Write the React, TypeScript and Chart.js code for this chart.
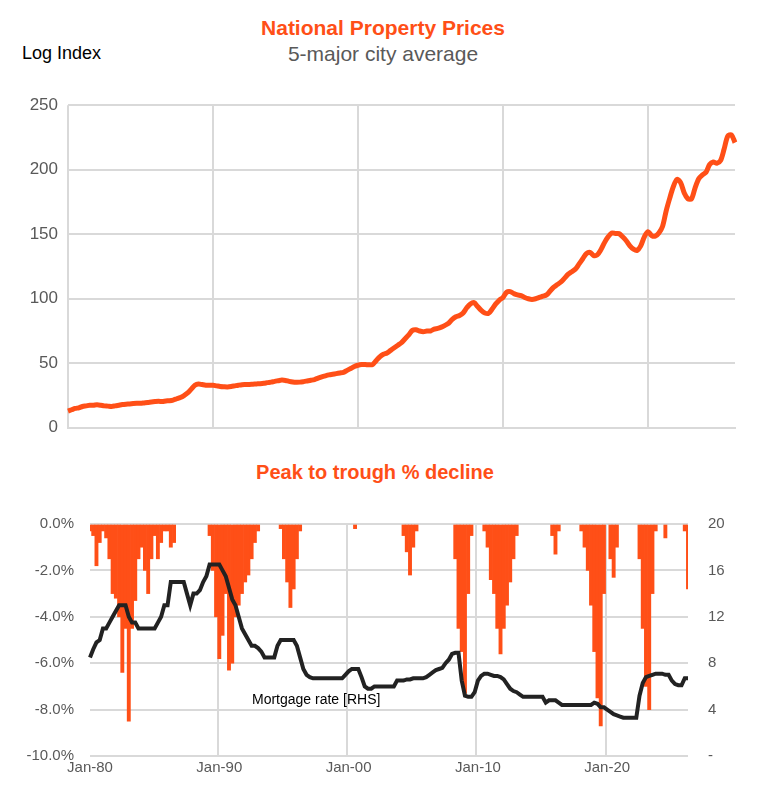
import React, { useEffect, useRef } from "react";
import { Chart, registerables } from "chart.js";
Chart.register(...registerables);

const ORANGE = "#FF4F17";
const GRID = "#d9d9d9";
const TICK = "#595959";
const FONT = "'Liberation Sans', Arial, sans-serif";

// Quarterly, 1980Q1 .. 2026Q1
const priceIndex: number[] = [
  13, 14, 15, 15.5, 16.5, 17, 17.5, 17.5, 17.8, 17.5, 17, 16.8, 16.6, 17, 17.5, 18,
  18.3, 18.5, 18.8, 19, 19, 19.3, 19.6, 20, 20.3, 20.5, 20.4, 20.8, 21, 21.5, 22.5, 23.5,
  25, 27, 30, 33, 34, 33.5, 33, 33, 33, 32.5, 32, 31.8, 31.7, 32, 32.5, 33,
  33.4, 33.5, 33.6, 33.8, 34, 34.2, 34.5, 35, 35.4, 36, 36.5, 37, 36.7, 36, 35.5, 35.3,
  35.4, 35.8, 36.3, 36.8, 37.4, 38.5, 39.5, 40.3, 41, 41.5, 42, 42.5, 43, 44.5, 46, 47.5,
  48.5, 49, 49, 48.8, 49, 52, 55, 57, 58, 60, 62, 64, 66, 69, 72, 75.5,
  76, 75, 74.5, 75, 75, 76.5, 77, 78, 79.4, 81, 84, 86, 87, 89, 93, 96,
  97, 94, 91, 89, 88.7, 92, 96, 99, 101, 105, 105.5, 104, 103, 102.5, 101, 100,
  99.5, 100, 101, 102, 103, 106, 109, 111, 113, 116, 119, 121, 123, 127, 131, 135,
  136, 133.5, 134, 138, 143.5, 148, 151, 150.5, 150.5, 148, 145, 141, 138.4, 137.5, 141, 148,
  152, 149, 148.5, 151, 156, 168, 178, 187, 192.5, 190, 182, 177.5, 177.4, 186, 193, 196,
  198, 204, 206, 205, 207, 216, 226, 227, 221,
];

// Quarterly, 1980Q1 .. 2026Q2
const declinePct: number[] = [
  -0.3, -0.5, -1.8, -0.8, -0.3, -0.6, -1.5, -3.0, -3.2, -4.0, -6.4, -4.5, -8.5, -4.5, -3.3, -1.5,
  -1.0, -2.0, -3.0, -1.5, -0.5, -1.5, -0.8, -0.3, -0.3, -1.0, -0.8, 0, 0, 0, 0, 0,
  0, 0, 0, 0, 0, -0.5, -2.0, -4.0, -5.8, -4.8, -3.0, -6.3, -6.0, -4.0, -3.5, -3.0,
  -2.5, -2.2, -1.5, -0.8, -0.3, 0, 0, 0, 0, 0, 0, -0.2, -1.5, -2.5, -3.6, -2.8,
  -1.5, -0.3, 0, 0, 0, 0, 0, 0, 0, 0, 0, 0, 0, 0, 0, 0,
  0, 0, -0.2, 0, 0, 0, 0, 0, 0, 0, 0, 0, 0, 0, 0, 0,
  0, -0.5, -1.2, -2.2, -1.0, -0.3, 0, 0, 0, 0, 0, 0, 0, 0, 0, 0,
  0, -1.5, -4.5, -5.5, -7.3, -3.0, -0.5, 0, 0, 0, -0.3, -1.0, -2.4, -3.0, -4.5, -5.6,
  -4.5, -3.5, -2.5, -1.5, -0.5, 0, 0, 0, 0, 0, 0, 0, 0, 0, 0, -0.5,
  -1.3, -0.3, 0, 0, 0, 0, 0, 0, -0.3, -1.0, -2.0, -3.5, -5.5, -7.5, -8.7, -3.0,
  0, -1.5, -2.3, -1.0, 0, 0, 0, 0, 0, 0, -1.5, -4.5, -7.0, -8.0, -3.0, -0.3,
  0, 0, -0.6, 0, 0, 0, 0, 0, -0.3, -2.8,
];

const mortgageRate: number[] = [
  8.5, 9.2, 9.8, 10, 11, 11, 11.5, 12, 12.5, 13, 13, 13, 12, 11.5, 11.5, 11,
  11, 11, 11, 11, 11, 11.5, 12, 13, 13, 15, 15, 15, 15, 15, 14, 13,
  14, 14, 14.3, 15, 15.5, 16.5, 16.5, 16.5, 16.5, 16, 15.5, 14.5, 13.5, 13, 12, 11,
  10.5, 10, 9.5, 9.5, 9.3, 9, 8.5, 8.5, 8.5, 8.5, 9.5, 10, 10, 10, 10, 10,
  9.5, 8.5, 7.5, 7, 6.8, 6.7, 6.7, 6.7, 6.7, 6.7, 6.7, 6.7, 6.7, 6.7, 6.7, 7.0,
  7.3, 7.5, 7.5, 7.5, 6.8, 6.0, 5.8, 5.8, 6.0, 6.0, 6.0, 6.0, 6.0, 6.0, 6.0, 6.5,
  6.5, 6.5, 6.6, 6.6, 6.7, 6.7, 6.7, 6.7, 6.8, 7.0, 7.2, 7.4, 7.5, 7.6, 8.0, 8.3,
  8.8, 8.9, 8.9, 6.5, 5.2, 5.1, 5.1, 5.5, 6.5, 6.9, 7.1, 7.1, 7.0, 6.9, 6.9, 6.8,
  6.6, 6.2, 5.8, 5.6, 5.5, 5.3, 5.1, 5.1, 5.1, 5.1, 5.1, 5.1, 5.1, 4.6, 4.8, 4.8,
  4.8, 4.6, 4.4, 4.4, 4.4, 4.4, 4.4, 4.4, 4.4, 4.4, 4.4, 4.4, 4.6, 4.5, 4.2, 4.2,
  4.0, 3.8, 3.6, 3.5, 3.4, 3.3, 3.3, 3.3, 3.3, 3.3, 5.2, 6.3, 6.8, 6.9, 7.0, 7.1,
  7.1, 7.1, 7.0, 7.0, 6.5, 6.2, 6.1, 6.1, 6.7, 6.7,
];

const quarterLabels = (n: number) =>
  Array.from({ length: n }, (_, i) => `Q${(i % 4) + 1}-${1980 + Math.floor(i / 4)}`);

const decadeTick = (i: number) =>
  i % 40 === 0 ? "Jan-" + String(1980 + i / 4).slice(2) : "";

export default function App() {
  const topRef = useRef<HTMLCanvasElement>(null);
  const botRef = useRef<HTMLCanvasElement>(null);

  useEffect(() => {
    const top = new Chart(topRef.current!, {
      type: "line",
      data: {
        labels: quarterLabels(priceIndex.length),
        datasets: [
          {
            data: priceIndex,
            borderColor: ORANGE,
            borderWidth: 5,
            pointRadius: 0,
            tension: 0.3,
          },
        ],
      },
      options: {
        animation: false,
        responsive: false,
        plugins: { legend: { display: false }, tooltip: { enabled: false } },
        layout: { padding: { top: 0, right: 23, left: 0, bottom: 0 } },
        scales: {
          x: {
            ticks: { display: false, autoSkip: false },
            grid: {
              color: (c: any) => (c.index % 40 === 0 ? GRID : "transparent"),
              lineWidth: 2,
              drawTicks: false,
            },
            border: { color: GRID, width: 2 },
            afterFit: (s: any) => {
              s.height = 3;
            },
          },
          y: {
            min: 0,
            max: 250,
            ticks: { stepSize: 50, color: TICK, font: { family: FONT, size: 17 }, padding: 10 },
            grid: { color: GRID, lineWidth: 2, drawTicks: false },
            border: { display: false },
            afterFit: (s: any) => {
              s.width = 68;
            },
          },
        },
      },
    });

    const bot = new Chart(botRef.current!, {
      data: {
        labels: quarterLabels(declinePct.length),
        datasets: [
          {
            type: "line",
            data: mortgageRate,
            yAxisID: "y1",
            borderColor: "#222222",
            borderWidth: 4,
            pointRadius: 0,
            tension: 0,
            order: 0,
          },
          {
            type: "bar",
            data: declinePct.map((v) => (v === 0 ? null : v)),
            yAxisID: "y",
            backgroundColor: ORANGE,
            barPercentage: 1,
            categoryPercentage: 1,
            order: 1,
          },
        ],
      } as any,
      options: {
        animation: false,
        responsive: false,
        plugins: { legend: { display: false }, tooltip: { enabled: false } },
        layout: { padding: { top: 4, right: 0, left: 0, bottom: 0 } },
        scales: {
          x: {
            offset: false,
            ticks: {
              autoSkip: false,
              maxRotation: 0,
              color: TICK,
              font: { family: FONT, size: 15 },
              callback: (_v: any, i: number) => decadeTick(i),
            },
            grid: {
              color: (c: any) => (c.index % 40 === 0 ? GRID : "transparent"),
              lineWidth: 2,
              drawTicks: false,
            },
            border: { display: false },
            afterFit: (s: any) => {
              s.height = 39;
            },
          },
          y: {
            position: "left",
            min: -10,
            max: 0,
            ticks: {
              stepSize: 2,
              color: TICK,
              font: { family: FONT, size: 15 },
              padding: 16,
              callback: (v: any) => Number(v).toFixed(1) + "%",
            },
            grid: { color: GRID, lineWidth: 2, drawTicks: false },
            border: { display: false },
            afterFit: (s: any) => {
              s.width = 90;
            },
          },
          y1: {
            position: "right",
            min: 0,
            max: 20,
            ticks: {
              stepSize: 4,
              color: TICK,
              font: { family: FONT, size: 15 },
              padding: 20,
              callback: (v: any) => (v === 0 ? "-" : String(v)),
            },
            grid: { display: false, drawTicks: false },
            border: { display: false },
            afterFit: (s: any) => {
              s.width = 70;
            },
          },
        },
      },
    });

    return () => {
      top.destroy();
      bot.destroy();
    };
  }, []);

  const abs = (l: number, t: number): React.CSSProperties => ({
    position: "absolute",
    left: l,
    top: t,
    fontFamily: FONT,
    whiteSpace: "nowrap",
  });

  return (
    <div style={{ position: "absolute", left: 0, top: 0, width: 758, height: 803, background: "#fff" }}>
      <div style={{ ...abs(0, 16), width: 766, textAlign: "center", color: ORANGE, fontWeight: "bold", fontSize: 21 }}>
        National Property Prices
      </div>
      <div style={{ ...abs(0, 42), width: 766, textAlign: "center", color: "#595959", fontSize: 21 }}>
        5-major city average
      </div>
      <div style={{ ...abs(22, 43), color: "#000", fontSize: 18 }}>Log Index</div>
      <canvas ref={topRef} width={758} height={363} style={{ position: "absolute", left: 0, top: 85 }} />
      <div style={{ ...abs(0, 461), width: 750, textAlign: "center", color: ORANGE, fontWeight: "bold", fontSize: 20 }}>
        Peak to trough % decline
      </div>
      <canvas ref={botRef} width={758} height={300} style={{ position: "absolute", left: 0, top: 495 }} />
      <div style={{ ...abs(252, 691), color: "#000", fontSize: 14 }}>Mortgage rate [RHS]</div>
    </div>
  );
}
